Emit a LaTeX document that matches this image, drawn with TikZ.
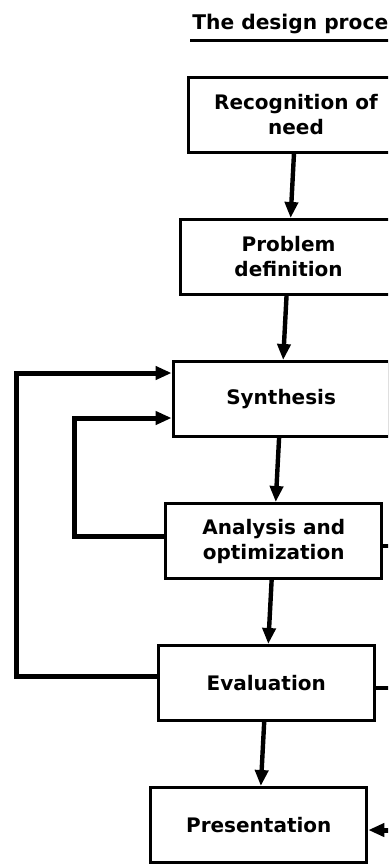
\documentclass[tikz,border=0pt]{standalone}
\usepackage{fontspec}
\setmainfont{DejaVu Sans}
\usetikzlibrary{arrows.meta}
\begin{document}
\begin{tikzpicture}[grow=267.3, level distance=71.1pt,
  stage/.style = {shape=rectangle, draw, line width=1.5pt, align=center,
    minimum width=108pt, minimum height=37.5pt,
    font=\fontsize{10}{12.5}\selectfont\bfseries},
  edge from parent/.style = {draw, line width=2.2pt,
    -{Triangle[length=8pt,width=6.5pt]}},
  feedback/.style = {draw, line width=2.5pt,
    -{Triangle[length=8pt,width=6.5pt]}}]
  \useasboundingbox (0,0) rectangle (194pt,-432.5pt);
  \clip (0,0) rectangle (194pt,-432.5pt);
  % heading
  \node[anchor=base west, inner sep=0pt,
    font=\fontsize{10.1}{12}\selectfont\bfseries] (title)
    at (96pt,-15pt) {The design proce};
  \draw[line width=1.5pt] (95pt,-20.5pt) -- ++(110pt,0);
  % the stages
  \node[stage] (need) at (148pt,-57.5pt) {Recognition of\\need}
    child { node[stage] (probdef) {Problem\\definition}
      child { node[stage] (synth) {Synthesis}
        child { node[stage] (anal) {Analysis and\\optimization}
          child { node[stage] (eval) {Evaluation}
            child { node[stage] (pres) {Presentation}}}}}};
  % loops back to synthesis
  \draw[feedback] ([yshift=3.5pt]eval.west) -- ++(-70pt,0)
    |- ([yshift=13pt]synth.west);
  \draw[feedback] ([yshift=2.5pt]anal.west) -- ++(-45pt,0)
    |- ([yshift=-9.5pt]synth.west);
  % lines leaving to the right
  \coordinate (analout) at ([shift={(30pt,-2.5pt)}]anal.east);
  \coordinate (evalout) at ([shift={(30pt,-2.5pt)}]eval.east);
  \coordinate (presin) at ([shift={(40pt,-2.5pt)}]pres.east);
  \draw[line width=2.2pt] ([yshift=-2.5pt]anal.east) -- (analout);
  \draw[line width=2.2pt] ([yshift=-2.5pt]eval.east) -- (evalout);
  \draw[feedback] (presin) -- ([yshift=-2.5pt]pres.east);
\end{tikzpicture}
\end{document}
